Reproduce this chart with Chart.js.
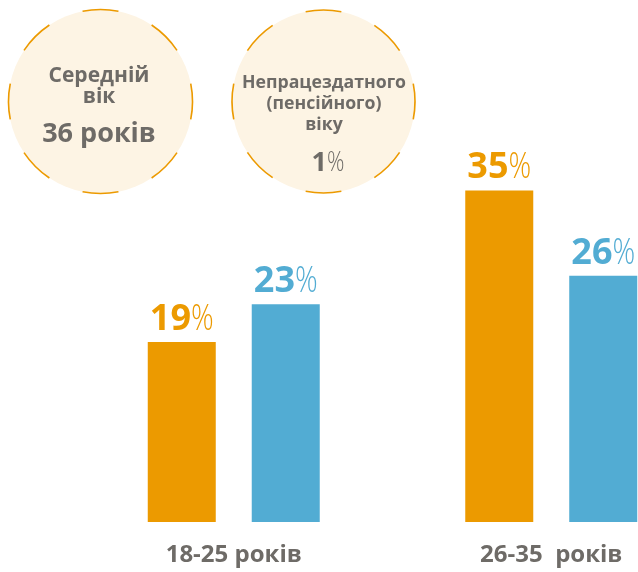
<!DOCTYPE html>
<html>
<head>
<meta charset="utf-8">
<script src="https://cdn.jsdelivr.net/npm/chart.js@4/dist/chart.umd.min.js"></script>
<style>
  html, body { margin: 0; padding: 0; background: #fff; overflow: hidden; }
  #wrap { width: 720px; height: 572px; position: relative; }
</style>
</head>
<body>
<div id="wrap"><canvas id="c" width="720" height="572"></canvas></div>
<script>
// ---- data ----
const categories = ['18-25 років', '26-35  років'];
const seriesOrange = [19, 35];
const seriesBlue = [23, 26];
const circle1Lines = ['Середній', 'вік'];
const circle1Value = '36 років';
const circle2Lines = ['Непрацездатного', '(пенсійного)', 'віку'];
const circle2Value = '1';

const ORANGE = '#ec9a00';
const BLUE = '#52acd3';
const GRAY = '#6e6b67';
const CREAM = '#fdf4e4';
const FONT = '"Open Sans", "Noto Sans", sans-serif';

function drawCircle(ctx, cx, cy, r) {
  ctx.save();
  ctx.beginPath();
  ctx.arc(cx, cy, r, 0, Math.PI * 2);
  ctx.fillStyle = CREAM;
  ctx.fill();
  ctx.strokeStyle = ORANGE;
  ctx.lineWidth = 1.6;
  for (let k = 0; k < 8; k++) {
    const a = k * Math.PI / 4;
    const h = Math.PI / 16;
    ctx.beginPath();
    ctx.arc(cx, cy, r, a - h, a + h);
    ctx.stroke();
  }
  ctx.restore();
}

function drawValuePct(ctx, num, cx, baseline, size, color, pctScale) {
  ctx.save();
  ctx.textBaseline = 'alphabetic';
  ctx.textAlign = 'left';
  ctx.font = '700 ' + size + 'px ' + FONT;
  const w1 = ctx.measureText(num).width;
  ctx.font = '300 ' + size + 'px ' + FONT;
  const w2 = ctx.measureText('%').width * pctScale;
  const x0 = cx - (w1 + w2) / 2;
  ctx.fillStyle = color;
  ctx.font = '700 ' + size + 'px ' + FONT;
  ctx.fillText(num, x0, baseline);
  ctx.font = '300 ' + size + 'px ' + FONT;
  ctx.translate(x0 + w1, baseline);
  ctx.scale(pctScale, 1);
  ctx.fillText('%', 0, 0);
  ctx.restore();
}

const decor = {
  id: 'decor',
  afterDraw(chart) {
    const ctx = chart.ctx;
    // circles
    drawCircle(ctx, 100.5, 101.5, 92);
    drawCircle(ctx, 323.5, 101.5, 91.5);
    ctx.save();
    ctx.fillStyle = GRAY;
    ctx.textAlign = 'center';
    ctx.textBaseline = 'alphabetic';
    ctx.font = '700 21px ' + FONT;
    ctx.fillText(circle1Lines[0], 99, 82);
    ctx.fillText(circle1Lines[1], 99, 103);
    ctx.font = '700 27px ' + FONT;
    ctx.fillText(circle1Value, 99, 142);
    ctx.font = '700 17.7px ' + FONT;
    ctx.fillText(circle2Lines[0], 324, 88);
    ctx.fillText(circle2Lines[1], 324, 109);
    ctx.fillText(circle2Lines[2], 324, 130);
    ctx.restore();
    drawValuePct(ctx, circle2Value, 328, 171, 27, GRAY, 0.8);

    // bar labels
    chart.data.datasets.forEach((ds, di) => {
      const meta = chart.getDatasetMeta(di);
      meta.data.forEach((bar, i) => {
        drawValuePct(ctx, String(ds.data[i]), bar.x, bar.y - 12, 36, ds.backgroundColor, 0.78);
      });
    });
  }
};

new Chart(document.getElementById('c'), {
  type: 'bar',
  data: {
    labels: categories,
    datasets: [
      { data: seriesOrange, backgroundColor: ORANGE },
      { data: seriesBlue, backgroundColor: BLUE }
    ]
  },
  options: {
    responsive: false,
    animation: false,
    events: [],
    layout: { padding: { left: 75, right: 10, top: 1, bottom: 0 } },
    datasets: { bar: { categoryPercentage: 0.655, barPercentage: 0.654 } },
    plugins: { legend: { display: false }, tooltip: { enabled: false } },
    scales: {
      y: { display: false, min: 0, max: 55 },
      x: {
        grid: { display: false, drawTicks: false },
        border: { display: false },
        ticks: { color: GRAY, font: { family: FONT, size: 24, weight: '700' }, padding: 19 },
        afterFit(scale) { scale.height = 50; }
      }
    }
  },
  plugins: [decor]
});
</script>
</body>
</html>
